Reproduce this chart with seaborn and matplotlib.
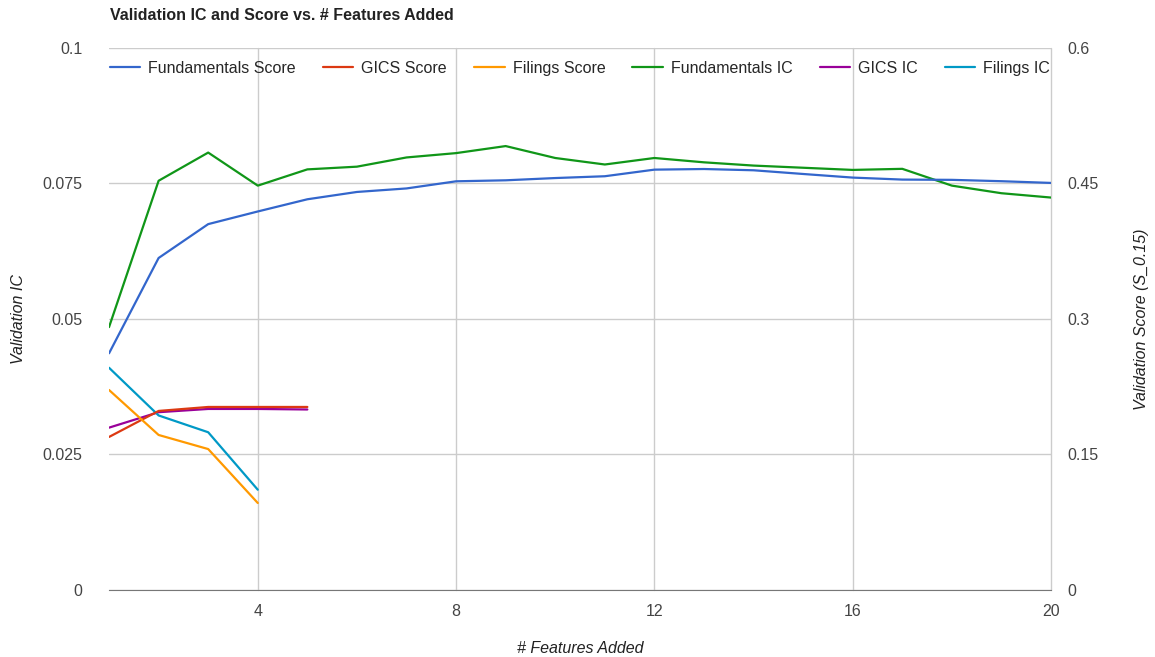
import pandas as pd
import matplotlib
matplotlib.use('Agg')
import matplotlib.pyplot as plt
import seaborn as sns

# number of features added
features = list(range(1, 21))
features_short = [1, 2, 3, 4]
features_gics = [1, 2, 3, 4, 5]

# validation score (right axis)
fund_score = [0.262, 0.3675, 0.405, 0.419, 0.4325, 0.4406, 0.4445, 0.4524, 0.4535, 0.456,
              0.458, 0.4653, 0.466, 0.4646, 0.4605, 0.4565, 0.4543, 0.454, 0.4525, 0.4506]
gics_score = [0.1694, 0.1982, 0.2026, 0.2026, 0.2026]
filings_score = [0.2214, 0.1716, 0.156, 0.0963]

# validation IC (left axis)
fund_ic = [0.0485, 0.0755, 0.0807, 0.0746, 0.0776, 0.0781, 0.0798, 0.0806, 0.0819, 0.0797,
           0.0785, 0.0797, 0.0789, 0.0783, 0.0779, 0.0775, 0.0777, 0.0746, 0.0732, 0.0724]
gics_ic = [0.02995, 0.0328, 0.0334, 0.0334, 0.0333]
filings_ic = [0.041, 0.0322, 0.0291, 0.0185]

ic_ticks = [0, 0.025, 0.05, 0.075, 0.1]
ic_labels = ['0', '0.025', '0.05', '0.075', '0.1']
score_ticks = [0, 0.15, 0.3, 0.45, 0.6]
score_labels = ['0', '0.15', '0.3', '0.45', '0.6']
x_ticks = [4, 8, 12, 16, 20]

sns.set_style('white')
plt.rcParams['font.family'] = ['Liberation Sans', 'DejaVu Sans']

fig, ax = plt.subplots(figsize=(11.55, 6.57), dpi=100)
fig.subplots_adjust(left=0.0944, right=0.91, bottom=0.102, top=0.927)
ax2 = ax.twinx()

lw = 1.6
sns.lineplot(x=features, y=fund_score, ax=ax2, color='#3366cc', lw=lw, label='Fundamentals Score')
sns.lineplot(x=features_gics, y=gics_score, ax=ax2, color='#dc3912', lw=lw, label='GICS Score')
sns.lineplot(x=features_short, y=filings_score, ax=ax2, color='#ff9900', lw=lw, label='Filings Score')
sns.lineplot(x=features, y=fund_ic, ax=ax, color='#109618', lw=lw, label='Fundamentals IC')
sns.lineplot(x=features_gics, y=gics_ic, ax=ax, color='#990099', lw=lw, label='GICS IC')
sns.lineplot(x=features_short, y=filings_ic, ax=ax, color='#0099c6', lw=lw, label='Filings IC')

ax.set_xlim(1, 20)
ax.set_ylim(0, 0.1)
ax2.set_ylim(0, 0.6)
ax.set_xticks(x_ticks)
ax.set_yticks(ic_ticks)
ax.set_yticklabels(ic_labels)
ax2.set_yticks(score_ticks)
ax2.set_yticklabels(score_labels)

ax.grid(True, color='#cccccc', lw=1)
ax2.grid(False)
# keep the gridline at the right edge fully visible
for gl in ax.get_xgridlines():
    gl.set_clip_on(False)
for a in (ax, ax2):
    for s in a.spines.values():
        s.set_visible(False)
    a.tick_params(length=0, labelsize=11.5, labelcolor='#444444')
ax.spines['bottom'].set_visible(True)
ax.spines['bottom'].set_color('#777777')
ax.tick_params(axis='y', pad=19)
ax.tick_params(axis='x', pad=10)
ax2.tick_params(axis='y', pad=12)

ax.set_xlabel('# Features Added', style='italic', fontsize=11.5, color='#222222', labelpad=16)
ax.set_ylabel('Validation IC', style='italic', fontsize=11.5, color='#222222', labelpad=12)
ax2.set_ylabel('Validation Score (S_0.15)', style='italic', fontsize=11.5, color='#222222', labelpad=25)

ax.set_title('Validation IC and Score vs. # Features Added', loc='left', fontsize=11.5,
             fontweight='bold', color='#222222', x=0.001, y=1.037)

handles2, labels2 = ax2.get_legend_handles_labels()
handles1, labels1 = ax.get_legend_handles_labels()
ax.get_legend().remove()
ax2.get_legend().remove()
ax2.legend(handles2 + handles1, labels2 + labels1, ncol=6, frameon=False,
           loc='upper left', bbox_to_anchor=(0.001, 0.976), fontsize=11.5,
           handlelength=1.9, handletextpad=0.5, columnspacing=1.7,
           borderaxespad=0, borderpad=0)

fig.savefig('out.png', dpi=100)
